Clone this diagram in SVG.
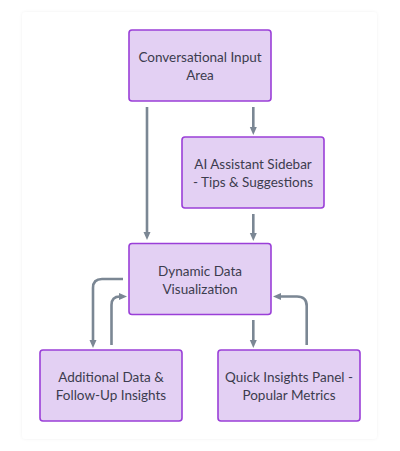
<svg xmlns="http://www.w3.org/2000/svg" width="400" height="451" viewBox="0 0 400 451">
<defs>
<filter id="sh" x="-5%" y="-5%" width="110%" height="110%">
<feDropShadow dx="0" dy="0" stdDeviation="1.5" flood-color="#000" flood-opacity="0.06"/>
</filter>
<marker id="ah" viewBox="0 0 8 8" refX="4" refY="4" markerWidth="8" markerHeight="8" markerUnits="userSpaceOnUse" orient="auto">
<path d="M0,0.5 L8,4 L0,7.5 Z" fill="#7b8794"/>
</marker>
<style>
.n rect{fill:#e3d0f3;stroke:#9a3fd8;stroke-width:1.6}
.n text{font-family:Lato,"Open Sans",sans-serif;font-size:13.5px;fill:#3c3c4e;text-anchor:middle}
.c path{fill:none;stroke:#7b8794;stroke-width:2.6;marker-end:url(#ah)}
</style>
</defs>
<rect x="0" y="0" width="400" height="451" fill="#fff"/>
<rect x="22" y="12" width="355" height="427" rx="4" fill="#fff" filter="url(#sh)"/>
<g class="c" id="connectors">
<path d="M147,107 V236"/>
<path d="M253.3,107 V131"/>
<path d="M253.3,214 V237"/>
<path d="M123,279 H102 Q93,279 93,288 V344"/>
<path d="M111.5,345 V305 Q111.5,296.5 120,296.5 H123"/>
<path d="M253.3,320 V344"/>
<path d="M306.7,345 V306 Q306.7,296.5 297,296.5 H277"/>
</g>
<g class="n" id="node-conversational">
<rect x="129" y="30" width="142" height="71" rx="3"/>
<text x="200" y="62">Conversational Input</text>
<text x="200" y="80">Area</text>
</g>
<g class="n" id="node-ai">
<rect x="182" y="137" width="142" height="71" rx="3"/>
<text x="253" y="169">AI Assistant Sidebar</text>
<text x="253" y="187">- Tips &amp; Suggestions</text>
</g>
<g class="n" id="node-dynamic">
<rect x="129" y="243.5" width="142" height="71" rx="3"/>
<text x="200" y="275.5">Dynamic Data</text>
<text x="200" y="293.5">Visualization</text>
</g>
<g class="n" id="node-additional">
<rect x="40" y="350" width="142" height="71" rx="3"/>
<text x="111" y="382">Additional Data &amp;</text>
<text x="111" y="400">Follow-Up Insights</text>
</g>
<g class="n" id="node-quick">
<rect x="218" y="350" width="142" height="71" rx="3"/>
<text x="289" y="382">Quick Insights Panel -</text>
<text x="289" y="400">Popular Metrics</text>
</g>
</svg>
